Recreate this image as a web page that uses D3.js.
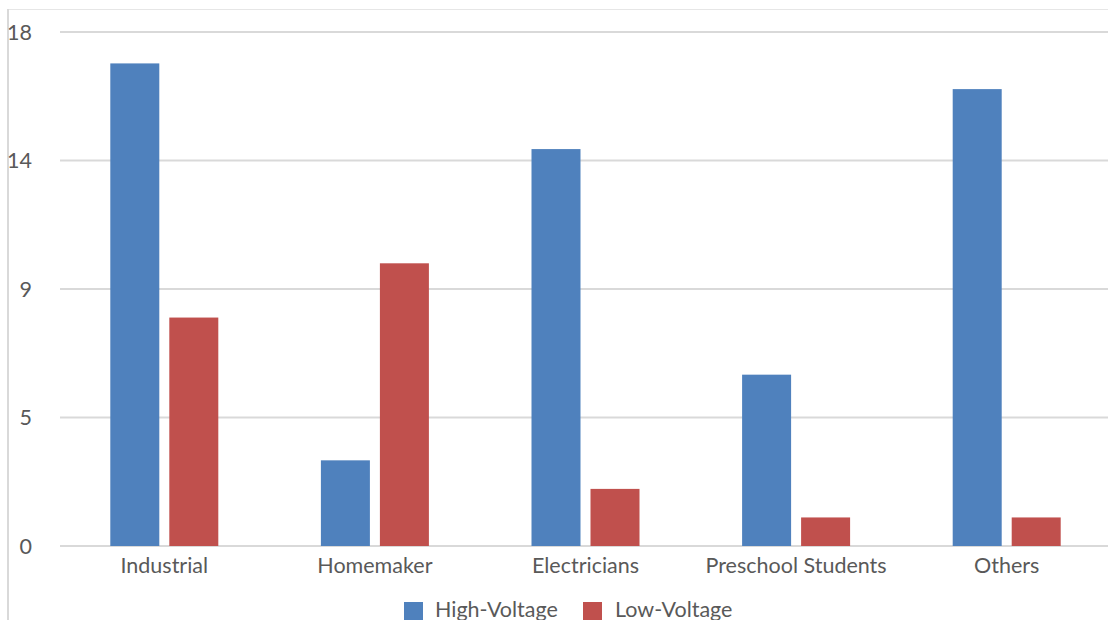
<!DOCTYPE html>
<html>
<head>
<meta charset="utf-8">
<script src="https://cdn.jsdelivr.net/npm/d3@7/dist/d3.min.js"></script>
<style>
  html, body { margin: 0; padding: 0; background: #fff; }
  svg { display: block; }
  text { font-family: Lato, "Open Sans", sans-serif; fill: #595959; }
</style>
</head>
<body>
<svg id="chart" width="1108" height="620"></svg>
<script>
// Injury counts by occupational group
const categories = ["Industrial", "Homemaker", "Electricians", "Preschool Students", "Others"];
const highVoltage = [16.9, 3, 13.9, 6, 16];
const lowVoltage = [8, 9.9, 2, 1, 1];
const seriesNames = ["High-Voltage", "Low-Voltage"];
const seriesColors = ["#4f81bd", "#c0504d"];
const tickValues = [0, 4.5, 9, 13.5, 18];
const tickLabels = ["0", "5", "9", "14", "18"];

const svg = d3.select("#chart");
const W = 1108, H = 620;
const plot = { left: 59, right: 1112, top: 32, bottom: 546 };
const fontSize = 21.5;

// outer frame of the chart area
svg.append("line").attr("x1", 8).attr("x2", W).attr("y1", 9.5).attr("y2", 9.5)
  .attr("stroke", "#e6e6e6").attr("stroke-width", 1);
svg.append("line").attr("x1", 8).attr("x2", 8).attr("y1", 9).attr("y2", H)
  .attr("stroke", "#d9d9d9").attr("stroke-width", 2);

const x0 = d3.scaleBand().domain(categories).range([plot.left, plot.right]).paddingInner(0).paddingOuter(0);
const y = d3.scaleLinear().domain([0, 18]).range([plot.bottom, plot.top]);

// gridlines
svg.append("g").selectAll("line").data(tickValues).join("line")
  .attr("x1", 60).attr("x2", W)
  .attr("y1", d => y(d)).attr("y2", d => y(d))
  .attr("stroke", "#d9d9d9").attr("stroke-width", 2);

// y tick labels
svg.append("g").selectAll("text").data(tickValues).join("text")
  .attr("x", 32).attr("y", d => y(d))
  .attr("dy", "0.35em")
  .attr("text-anchor", "end")
  .attr("font-size", fontSize)
  .text((d, i) => tickLabels[i]);

// bars
const barW = 49, gap = 10;
const groupW = barW * 2 + gap;
const x1 = d3.scaleOrdinal().domain([0, 1]).range([0, barW + gap]);
const rows = categories.map((c, i) => ({ c, vals: [highVoltage[i], lowVoltage[i]] }));

const groups = svg.append("g").selectAll("g").data(rows).join("g")
  .attr("transform", d => `translate(${x0(d.c) + x0.bandwidth() / 2 - groupW / 2},0)`);
groups.selectAll("rect").data(d => d.vals.map((v, k) => ({ v, k }))).join("rect")
  .attr("x", d => x1(d.k))
  .attr("width", barW)
  .attr("y", d => y(d.v))
  .attr("height", d => y(0) - y(d.v))
  .attr("fill", d => seriesColors[d.k]);

// category labels
svg.append("g").selectAll("text").data(categories).join("text")
  .attr("x", d => x0(d) + x0.bandwidth() / 2)
  .attr("y", 573)
  .attr("text-anchor", "middle")
  .attr("font-size", fontSize)
  .text(d => d);

// legend
const legendItems = [{ x: 404, tx: 435 }, { x: 583, tx: 615 }];
legendItems.forEach((p, i) => {
  svg.append("rect").attr("x", p.x).attr("y", 602).attr("width", 19).attr("height", 19)
    .attr("fill", seriesColors[i]);
  svg.append("text").attr("x", p.tx).attr("y", 617).attr("font-size", fontSize).text(seriesNames[i]);
});
</script>
</body>
</html>
